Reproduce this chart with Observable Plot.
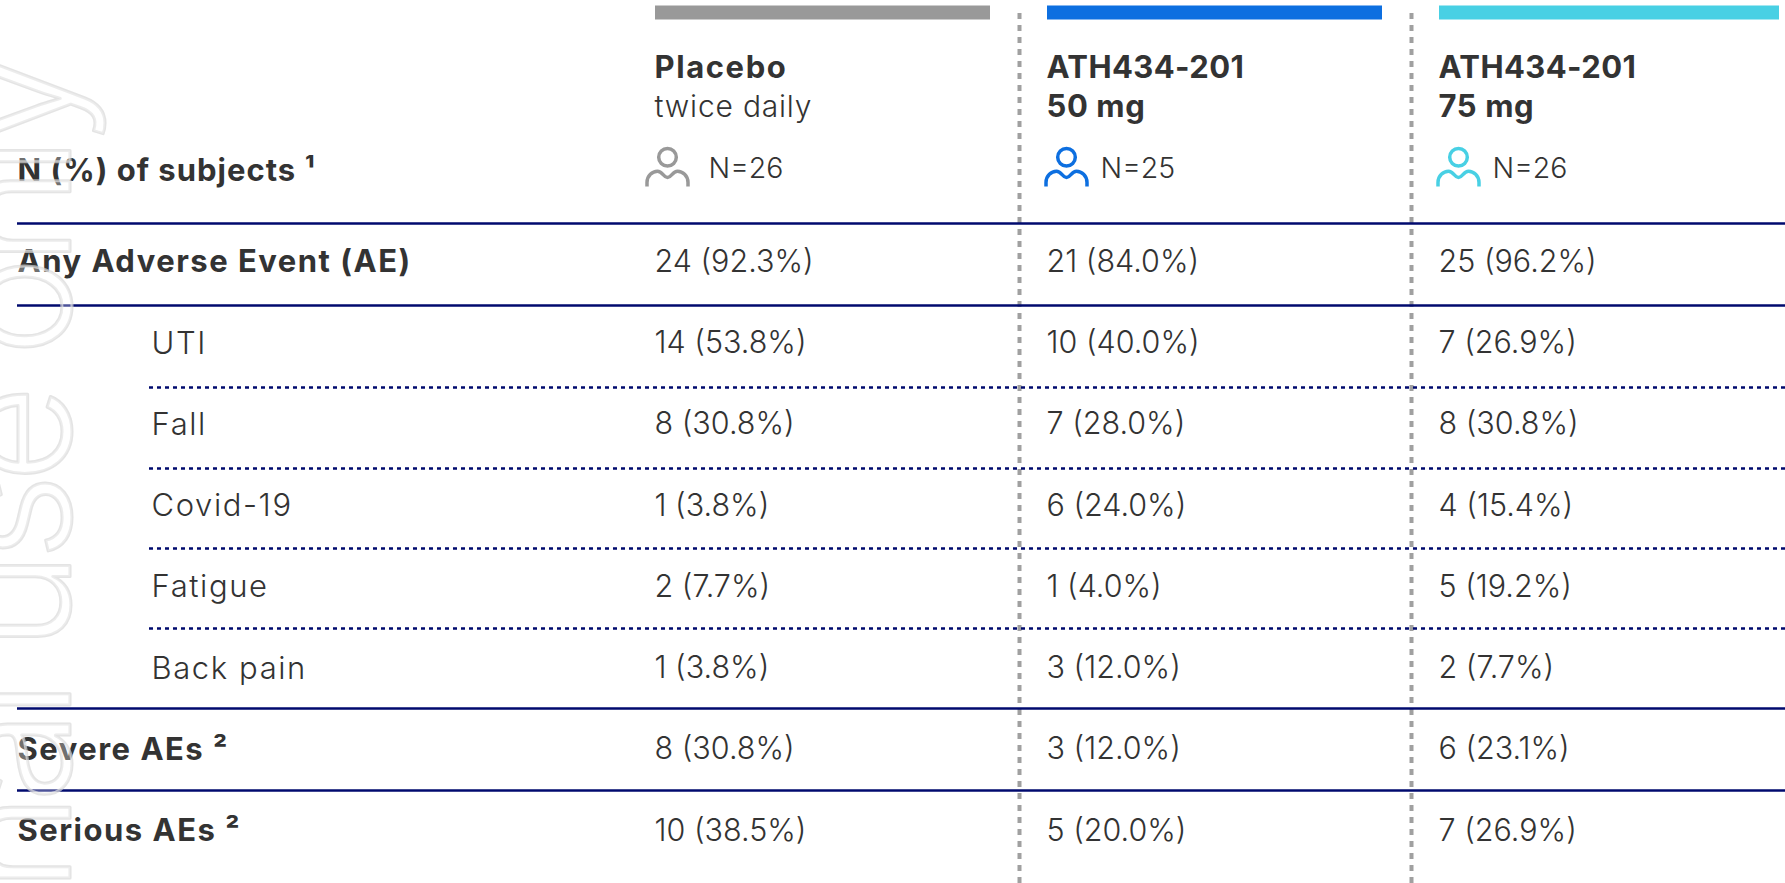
<!DOCTYPE html>
<html><head><meta charset="utf-8">
<script src="https://cdn.jsdelivr.net/npm/d3@7"></script>
<script src="https://cdn.jsdelivr.net/npm/@observablehq/plot@0.6"></script>
<style>html,body{margin:0;padding:0;background:#fff;overflow:hidden}svg{display:block}</style>
</head><body><div id="chart"></div>
<script>
const columns = ["Placebo", "ATH434-201 50 mg", "ATH434-201 75 mg"];
const columnColors = ["#999999", "#0d6fe0", "#48d0e4"];
const titleLine1 = ["Placebo", "ATH434-201", "ATH434-201"];
const titleLine2 = ["twice daily", "50 mg", "75 mg"];
const titleLine2Bold = [false, true, true];
const subjects = ["N=26", "N=25", "N=26"];
const rows = ["Header", "Any Adverse Event (AE)", "UTI", "Fall", "Covid-19", "Fatigue", "Back pain", "Severe AEs ²", "Serious AEs ²"];
const headRows = ["Any Adverse Event (AE)", "Severe AEs ²", "Serious AEs ²"];
const subRows = ["UTI", "Fall", "Covid-19", "Fatigue", "Back pain"];
const placeboValues = ["24 (92.3%)", "14 (53.8%)", "8 (30.8%)", "1 (3.8%)", "2 (7.7%)", "1 (3.8%)", "8 (30.8%)", "10 (38.5%)"];
const mg50Values = ["21 (84.0%)", "10 (40.0%)", "7 (28.0%)", "6 (24.0%)", "1 (4.0%)", "3 (12.0%)", "3 (12.0%)", "5 (20.0%)"];
const mg75Values = ["25 (96.2%)", "7 (26.9%)", "8 (30.8%)", "4 (15.4%)", "5 (19.2%)", "2 (7.7%)", "6 (23.1%)", "7 (26.9%)"];
const headerLabel = "N (%) of subjects ¹";
const watermark = "Internal use only";

const cells = rows.slice(1).flatMap((r, i) => [placeboValues, mg50Values, mg75Values].map((v, c) => ({row: r, col: columns[c], text: v[i]})));
const cols = columns.map((c, i) => ({col: c, color: columnColors[i], t1: titleLine1[i], t2: titleLine2[i], bold: titleLine2Bold[i], n: subjects[i]}));

const person = {draw(ctx, size) {
  const u = Math.sqrt(size / Math.PI) / 10;
  const p = (x, y) => [x * u, y * u];
  ctx.moveTo(...p(8.8, -8.3)); ctx.arc(0, -8.3 * u, 8.8 * u, 0, 2 * Math.PI);
  ctx.moveTo(...p(-20.5, 21));
  ctx.lineTo(...p(-20.5, 17));
  ctx.bezierCurveTo(...p(-20.5, 10), ...p(-15, 5.7), ...p(-10, 5.7));
  ctx.bezierCurveTo(...p(-5, 5.7), ...p(-4, 12), ...p(0, 12));
  ctx.bezierCurveTo(...p(4, 12), ...p(5, 5.7), ...p(10, 5.7));
  ctx.bezierCurveTo(...p(15, 5.7), ...p(20.5, 10), ...p(20.5, 17));
  ctx.lineTo(...p(20.5, 21));
}};

const spaced = s => ({render(index, scales, values, dims, ctx, next) {
  const g = next(index, scales, values, dims, ctx);
  g.style.letterSpacing = s + "px";
  return g;
}});

const FONT = "Inter";
const INK = "#333333", NAVY = "#000a6e";
const solid = (r, dy) => Plot.ruleY([r], {y: d => d, dy, stroke: NAVY, strokeWidth: 2.5});
const dotted = (r, dy) => Plot.ruleY([r], {y: d => d, dy, insetLeft: 132, stroke: NAVY, strokeWidth: 2.5, strokeDasharray: "4,4"});
const chart = Plot.plot({
  width: 1785, height: 883,
  marginTop: 0, marginRight: 0, marginBottom: 0, marginLeft: 17,
  style: {background: "#fff", fontFamily: FONT},
  x: {type: "band", domain: columns, range: [655, 1775], paddingInner: 0.1465, paddingOuter: 0, align: 0, axis: null},
  y: {type: "point", domain: rows, range: [180, 830.5], padding: 0, round: false, axis: null},
  marks: [
    Plot.ruleX(cols.slice(1), {x: "col", dx: -195.5, stroke: "#a0a0a0", strokeWidth: 4, strokeDasharray: "6,6", insetTop: 13}),
    Plot.tickY(cols.slice(0, 2), {x: "col", y: () => "Header", dy: -168, stroke: "color", strokeWidth: 14}),
    Plot.tickY(cols.slice(2), {x: "col", y: () => "Header", dy: -168, insetRight: -5, stroke: "color", strokeWidth: 14}),
    solid("Any Adverse Event (AE)", -38.3),
    solid("UTI", -37.6),
    dotted("Fall", -36.9),
    dotted("Covid-19", -37.2),
    dotted("Fatigue", -38.6),
    dotted("Back pain", -39.9),
    solid("Severe AEs ²", -41.2),
    solid("Serious AEs ²", -40.5),
    Plot.text(cols.filter(d => !d.bold), {x: "col", y: () => "Header", text: "t1", dx: -168.5, dy: -112, textAnchor: "start", fontSize: 31, fontWeight: 700, fill: INK, ...spaced(1.6)}),
    Plot.text(cols.filter(d => d.bold), {x: "col", y: () => "Header", text: "t1", dx: -168.5, dy: -112, textAnchor: "start", fontSize: 31, fontWeight: 700, fill: INK, ...spaced(0.4)}),
    Plot.text(cols.filter(d => !d.bold), {x: "col", y: () => "Header", text: "t2", dx: -168.5, dy: -73, textAnchor: "start", fontSize: 30, fontWeight: 300, fill: INK, ...spaced(0.8)}),
    Plot.text(cols.filter(d => d.bold), {x: "col", y: () => "Header", text: "t2", dx: -168.5, dy: -73, textAnchor: "start", fontSize: 31, fontWeight: 700, fill: INK, ...spaced(0.6)}),
    Plot.text(cols, {x: "col", y: () => "Header", text: "n", dx: -114.5, dy: -11.5, textAnchor: "start", fontSize: 28.5, fontWeight: 300, fill: INK}),
    Plot.dot(cols.slice(0, 1), {x: "col", y: () => "Header", dx: -155.5, dy: -15, r: 10, symbol: person, stroke: "color", strokeWidth: 3.5, fill: "none"}),
    Plot.dot(cols.slice(1), {x: "col", y: () => "Header", dx: -148.5, dy: -15, r: 10, symbol: person, stroke: "color", strokeWidth: 3.5, fill: "none"}),
    Plot.text([headerLabel], {frameAnchor: "left", y: () => "Header", text: d => d, dy: -9.5, fontSize: 31, fontWeight: 700, fill: INK, ...spaced(1)}),
    Plot.text(headRows, {frameAnchor: "left", y: d => d, text: d => d, fontSize: 31, fontWeight: 700, fill: INK, ...spaced(1.5)}),
    Plot.text(subRows, {frameAnchor: "left", y: d => d, text: d => d, dx: 134, dy: 0.5, fontSize: 31, fontWeight: 300, fill: INK, ...spaced(1.6)}),
    Plot.text(cells, {x: "col", y: "row", text: "text", dx: -168.5, textAnchor: "start", fontSize: 30.5, fontWeight: 300, fill: INK}),
    Plot.text([watermark], {frameAnchor: "top-left", text: d => d, dx: 52, dy: 60, rotate: -90, textAnchor: "end", lineAnchor: "bottom", fontSize: 168, fontWeight: 300, fill: "rgba(255,255,255,0.3)", stroke: "#d8d8d8", strokeOpacity: 0.7, strokeWidth: 3, ...spaced(-9)})
  ]
});
document.getElementById("chart").append(chart);
</script></body></html>
